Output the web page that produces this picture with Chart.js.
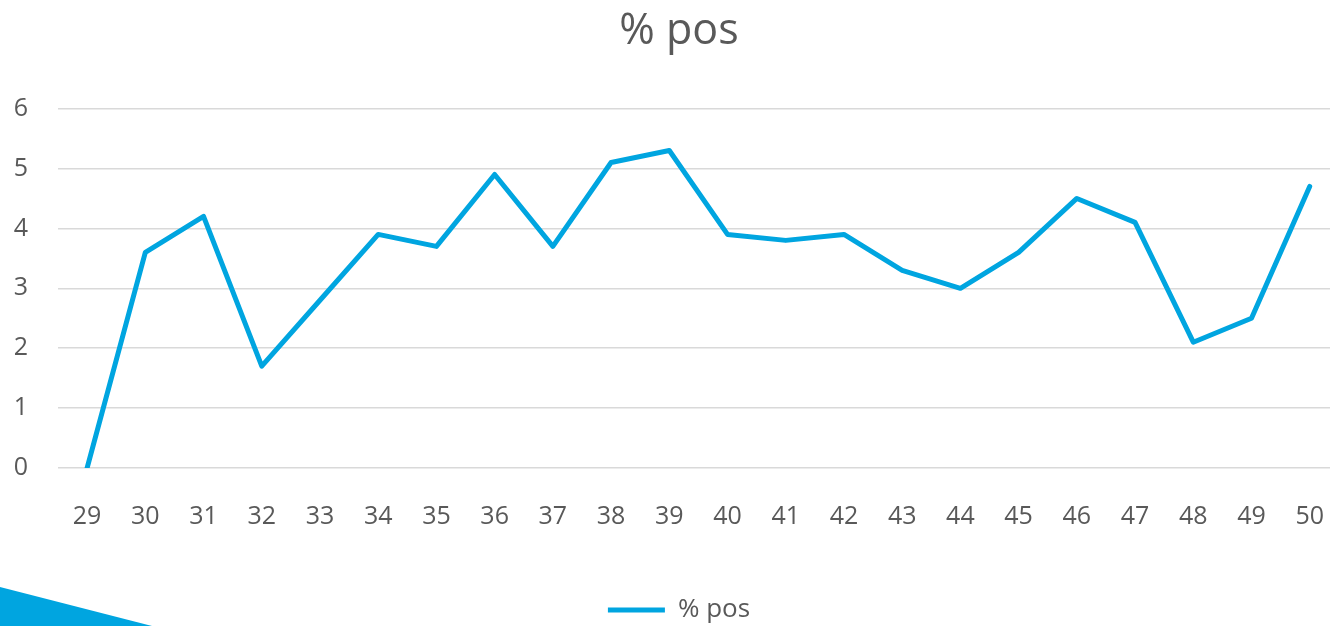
<!DOCTYPE html>
<html>
<head>
<meta charset="utf-8">
<script src="https://cdn.jsdelivr.net/npm/chart.js@4/dist/chart.umd.min.js"></script>
<style>
  html, body { margin: 0; padding: 0; background: #fff; overflow: hidden; width: 1330px; height: 626px; }
  #wrap { position: relative; width: 1330px; height: 626px; overflow: hidden; }
  canvas { position: absolute; left: 0; top: 0; }
  #deco { position: absolute; left: 0; top: 0; width: 1330px; height: 626px; background: #00A5E0;
          clip-path: polygon(0px 587px, 152px 626px, 0px 626px); pointer-events: none; }
</style>
</head>
<body>
<div id="wrap">
  <canvas id="c" width="1358" height="640"></canvas>
  <div id="deco"></div>
</div>
<script>
const categories = ['29','30','31','32','33','34','35','36','37','38','39','40','41','42','43','44','45','46','47','48','49','50'];
const seriesName = '% pos';
const values = [0, 3.6, 4.2, 1.7, 2.8, 3.9, 3.7, 4.9, 3.7, 5.1, 5.3, 3.9, 3.8, 3.9, 3.3, 3.0, 3.6, 4.5, 4.1, 2.1, 2.5, 4.7];
const yTicks = [0, 1, 2, 3, 4, 5, 6];

const blue = '#00A5E0';
const textColor = '#595959';
const fontFamily = '"Open Sans", "Noto Sans", sans-serif';

new Chart(document.getElementById('c'), {
  type: 'line',
  data: {
    labels: categories,
    datasets: [{
      label: seriesName,
      data: values,
      borderColor: blue,
      backgroundColor: blue,
      borderWidth: 5,
      borderCapStyle: 'round',
      borderJoinStyle: 'round',
      pointRadius: 0,
      pointHoverRadius: 0,
      tension: 0,
      fill: false,
      pointStyle: 'line'
    }]
  },
  options: {
    responsive: false,
    animation: false,
    layout: { padding: { left: 0, right: 0, top: 0, bottom: 7 } },
    plugins: {
      title: {
        display: true,
        text: seriesName,
        color: textColor,
        font: { family: fontFamily, size: 43, weight: 'normal' },
        padding: { top: 6, bottom: 51 }
      },
      legend: {
        display: true,
        position: 'bottom',
        labels: {
          color: textColor,
          font: { family: fontFamily, size: 26 },
          usePointStyle: true,
          pointStyleWidth: 57,
          padding: 0
        }
      },
      tooltip: { enabled: false }
    },
    scales: {
      x: {
        offset: true,
        grid: { display: false, drawTicks: false },
        border: { display: false },
        ticks: {
          color: textColor,
          font: { family: fontFamily, size: 25 },
          padding: 34,
          maxRotation: 0,
          autoSkip: false
        },
        afterFit: s => { s.height = 129; }
      },
      y: {
        min: 0,
        max: 6,
        afterBuildTicks: s => { s.ticks = yTicks.map(v => ({ value: v })); },
        grid: { color: '#d9d9d9', lineWidth: 1.5, drawTicks: false },
        border: { display: false },
        ticks: {
          color: textColor,
          font: { family: fontFamily, size: 25 },
          padding: 30,
          crossAlign: 'center'
        },
        afterFit: s => { s.width = 58; }
      }
    }
  }
});
</script>
</body>
</html>
